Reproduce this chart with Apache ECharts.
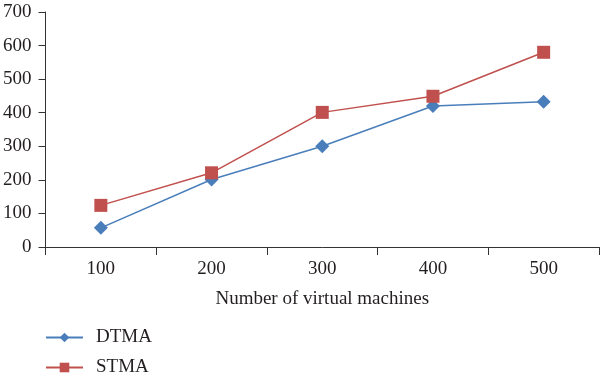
<!DOCTYPE html>
<html>
<head>
<meta charset="utf-8">
<script src="https://cdn.jsdelivr.net/npm/echarts@6/dist/echarts.min.js"></script>
<style>html,body{margin:0;padding:0;background:#fff}#c{width:600px;height:378px}</style>
</head>
<body>
<div id="c"></div>
<script>
var categories = ['100', '200', '300', '400', '500'];
var dtma = [57, 201, 300, 420, 433];
var stma = [124, 221, 401, 449, 580];
var yTicks = { min: 0, max: 700, interval: 100 };

var font = 'Liberation Serif';
var textColor = '#231f20';
function legendAt(name, centerY) {
  return {
    orient: 'vertical',
    left: 45,
    top: centerY - 11,
    padding: 0,
    itemWidth: 37,
    itemHeight: 12,
    textStyle: { fontFamily: font, fontSize: 19, color: textColor, padding: [0, 0, 0, 8] },
    data: [name]
  };
}
var chart = echarts.init(document.getElementById('c'), null, { renderer: 'canvas' });
chart.setOption({
  animation: false,
  backgroundColor: '#fff',
  grid: { left: 42, right: 1, top: 12, bottom: 131, containLabel: false },
  legend: [legendAt('DTMA', 339), legendAt('STMA', 369)],
  xAxis: {
    type: 'category',
    data: categories,
    boundaryGap: true,
    name: 'Number of virtual machines',
    nameLocation: 'middle',
    nameGap: 43,
    nameTextStyle: { fontFamily: font, fontSize: 19, color: textColor },
    axisLine: { lineStyle: { color: '#333', width: 1 } },
    axisTick: { show: true, length: 8, alignWithLabel: false, lineStyle: { color: '#333' } },
    axisLabel: { fontFamily: font, fontSize: 19, color: textColor, margin: 13 },
    splitLine: { show: false }
  },
  yAxis: {
    type: 'value',
    min: yTicks.min,
    max: yTicks.max,
    interval: yTicks.interval,
    axisLine: { show: true, lineStyle: { color: '#333', width: 1 } },
    axisTick: { show: true, length: 7, lineStyle: { color: '#333' } },
    axisLabel: { fontFamily: font, fontSize: 19, color: textColor, margin: 14 },
    splitLine: { show: false }
  },
  series: [
    {
      name: 'DTMA',
      type: 'line',
      data: dtma,
      symbol: 'diamond',
      symbolSize: 14,
      color: '#4A7EBB',
      lineStyle: { width: 1.5, color: '#4A7EBB' },
      itemStyle: { color: '#4A7EBB' }
    },
    {
      name: 'STMA',
      type: 'line',
      data: stma,
      symbol: 'rect',
      symbolSize: 13,
      color: '#C0504D',
      lineStyle: { width: 1.5, color: '#C0504D' },
      itemStyle: { color: '#C0504D' }
    }
  ]
});
</script>
</body>
</html>
